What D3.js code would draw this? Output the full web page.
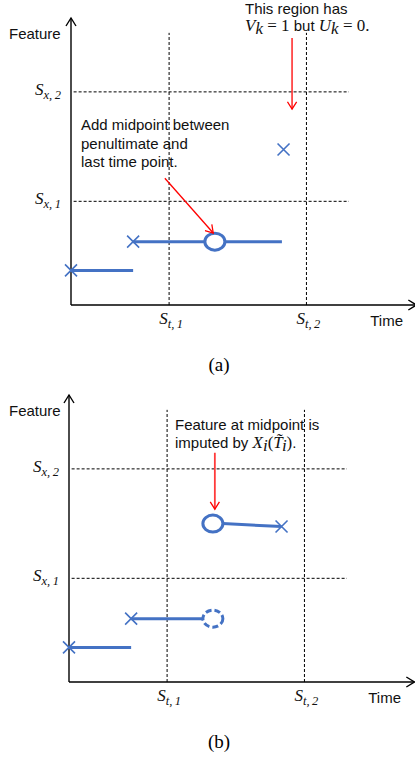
<!DOCTYPE html>
<html>
<head>
<meta charset="utf-8">
<script src="https://cdn.jsdelivr.net/npm/d3@7"></script>
<style>
  body { margin: 0; background: #fff; }
  svg { display: block; }
  .sans { font-family: "Liberation Sans", Arial, sans-serif; font-size: 15px; fill: #111; }
  .math { font-family: "Liberation Serif", "DejaVu Serif", serif; font-style: italic; font-size: 17px; fill: #111; }
</style>
</head>
<body>
<div class="chart"></div>
<script>
// Chart layout
var width = 415,
  height = 759,
  blue = "#4472c4",
  red = "#ff0000";

// Data (abstract time / feature units)
var timeThresholds = [3.0, 7.2];         // S_t,1 , S_t,2
var featureThresholds = [3.6, 7.4];      // S_x,1 , S_x,2
var thresholdLabels = ["1", "2"];

// panel (a)
var segmentsA = [
  { t0: 0.0, t1: 1.9, x0: 1.2, x1: 1.2 },
  { t0: 1.9, t1: 6.45, x0: 2.2, x1: 2.2 }
];
var crossesA = [
  { t: 0.0, x: 1.2 },
  { t: 1.9, x: 2.2 },
  { t: 6.5, x: 5.4 }
];
var circlesA = [{ t: 4.4, x: 2.2, dashed: false }];

// panel (b)
var segmentsB = [
  { t0: 0.0, t1: 1.9, x0: 1.2, x1: 1.2 },
  { t0: 1.9, t1: 4.1, x0: 2.2, x1: 2.2 },
  { t0: 4.7, t1: 6.5, x0: 5.5, x1: 5.4 }
];
var crossesB = [
  { t: 0.0, x: 1.2 },
  { t: 1.9, x: 2.2 },
  { t: 6.5, x: 5.4 }
];
var circlesB = [
  { t: 4.4, x: 5.5, dashed: false },
  { t: 4.4, x: 2.2, dashed: true }
];

var svg = d3.select(".chart").append("svg")
  .attr("width", width)
  .attr("height", height);

var defs = svg.append("defs");
function marker(id, color, size) {
  defs.append("marker")
    .attr("id", id)
    .attr("viewBox", "-10 -6 12 12")
    .attr("refX", 0).attr("refY", 0)
    .attr("markerWidth", size).attr("markerHeight", size)
    .attr("markerUnits", "userSpaceOnUse")
    .attr("orient", "auto")
    .append("path")
      .attr("d", "M-8,-5L0,0L-8,5")
      .attr("fill", "none")
      .attr("stroke", color)
      .attr("stroke-width", 1.4);
}
marker("axisArrow", "#000", 12);
marker("redArrow", red, 11);

// subscripted math label: base letter + smaller subscript
function mathLabel(sel, base, sub) {
  sel.append("tspan").text(base);
  sel.append("tspan").attr("dy", 4).attr("font-size", 12.5).text(sub);
}

// Draws one panel
function drawPanel(opt) {
  var x = d3.scaleLinear().domain([0, 10]).range([opt.left, opt.left + 327]);
  var y = d3.scaleLinear().domain([0, 10]).range([opt.bottom, opt.bottom - 288]);
  var g = svg.append("g");

  // dashed threshold grid
  g.selectAll(".vdash").data(timeThresholds).enter().append("line")
    .attr("x1", function(d) { return x(d); }).attr("x2", function(d) { return x(d); })
    .attr("y1", y(0)).attr("y2", y(9.45))
    .attr("stroke", "#000").attr("stroke-width", 1).attr("stroke-dasharray", "3,2");
  g.selectAll(".hdash").data(featureThresholds).enter().append("line")
    .attr("x1", x(0.08)).attr("x2", x(8.5))
    .attr("y1", function(d) { return y(d); }).attr("y2", function(d) { return y(d); })
    .attr("stroke", "#000").attr("stroke-width", 1).attr("stroke-dasharray", "3,2");

  // axes
  g.append("line").attr("x1", x(0)).attr("y1", y(0)).attr("x2", x(0)).attr("y2", y(10) + 1)
    .attr("stroke", "#000").attr("stroke-width", 1.4).attr("marker-end", "url(#axisArrow)");
  g.append("line").attr("x1", x(0)).attr("y1", y(0)).attr("x2", x(10.5) + 2).attr("y2", y(0))
    .attr("stroke", "#000").attr("stroke-width", 1.4).attr("marker-end", "url(#axisArrow)");

  g.append("text").attr("class", "sans").attr("x", 9).attr("y", y(10) + 22).text("Feature");
  g.append("text").attr("class", "sans").attr("x", x(9.15)).attr("y", y(0) + 21).text("Time");

  // threshold labels
  g.selectAll(".tl").data(timeThresholds).enter().append("text")
    .attr("class", "math").attr("text-anchor", "middle")
    .attr("x", function(d) { return x(d) + 2; }).attr("y", y(0) + 19)
    .each(function(d, i) { mathLabel(d3.select(this), "S", "t,\u2009" + thresholdLabels[i]); });

  g.selectAll(".fl").data(featureThresholds).enter().append("text")
    .attr("class", "math").attr("text-anchor", "end")
    .attr("x", x(0) - 10).attr("y", function(d) { return y(d) + 3; })
    .each(function(d, i) { mathLabel(d3.select(this), "S", "x,\u2009" + thresholdLabels[i]); });

  // segments
  g.selectAll(".seg").data(opt.segments).enter().append("line")
    .attr("x1", function(d) { return x(d.t0); }).attr("x2", function(d) { return x(d.t1); })
    .attr("y1", function(d) { return y(d.x0); }).attr("y2", function(d) { return y(d.x1); })
    .attr("stroke", blue).attr("stroke-width", 3);

  // crosses
  var cs = 6;
  g.selectAll(".cross").data(opt.crosses).enter().append("path")
    .attr("d", function(d) {
      var cx = x(d.t), cy = y(d.x);
      return "M" + (cx - cs) + "," + (cy - cs) + "L" + (cx + cs) + "," + (cy + cs) +
        "M" + (cx - cs) + "," + (cy + cs) + "L" + (cx + cs) + "," + (cy - cs);
    })
    .attr("stroke", blue).attr("stroke-width", 1.6).attr("fill", "none");

  // midpoint circles
  g.selectAll(".mid").data(opt.circles).enter().append("ellipse")
    .attr("cx", function(d) { return x(d.t); }).attr("cy", function(d) { return y(d.x); })
    .attr("rx", 10).attr("ry", 8.5)
    .attr("fill", "#fff").attr("stroke", blue).attr("stroke-width", 3)
    .attr("stroke-dasharray", function(d) { return d.dashed ? "6,3" : null; });

  // red annotation arrows
  g.selectAll(".arr").data(opt.arrows).enter().append("line")
    .attr("x1", function(d) { return x(d.t0); }).attr("y1", function(d) { return y(d.x0); })
    .attr("x2", function(d) { return x(d.t1); }).attr("y2", function(d) { return y(d.x1); })
    .attr("stroke", opt.arrowColor).attr("stroke-width", opt.arrowWidth).attr("marker-end", "url(#redArrow)");

  g.append("text").attr("font-family", "Liberation Serif, serif").attr("font-size", 19)
    .attr("text-anchor", "middle").attr("x", 219).attr("y", y(0) + 66).text(opt.caption);

  return { g: g, x: x, y: y };
}

var pa = drawPanel({
  left: 71, bottom: 305,
  segments: segmentsA, crosses: crossesA, circles: circlesA,
  arrows: [
    { t0: 2.87, x0: 4.4, t1: 4.35, x1: 2.5 },
    { t0: 6.76, x0: 9.27, t1: 6.76, x1: 6.8 }
  ],
  arrowColor: red, arrowWidth: 1.3,
  caption: "(a)"
});

var pb = drawPanel({
  left: 69, bottom: 682,
  segments: segmentsB, crosses: crossesB, circles: circlesB,
  arrows: [{ t0: 4.46, x0: 7.96, t1: 4.46, x1: 6.0 }],
  arrowColor: "#ff3b3b", arrowWidth: 1.8,
  caption: "(b)"
});

// annotation text, panel (a)
var ga = pa.g;
ga.append("text").attr("class", "sans").attr("x", 245).attr("y", 14).text("This region has");
var l2 = ga.append("text").attr("class", "sans").attr("x", 245).attr("y", 31);
l2.append("tspan").attr("class", "math").text("V");
l2.append("tspan").attr("class", "math").attr("font-size", 12).attr("dy", 3).text("k");
l2.append("tspan").attr("font-family", "Liberation Serif, serif").attr("font-size", 17).attr("dy", -3).text(" = 1 ");
l2.append("tspan").text("but ");
l2.append("tspan").attr("class", "math").text("U");
l2.append("tspan").attr("class", "math").attr("font-size", 12).attr("dy", 3).text("k");
l2.append("tspan").attr("font-family", "Liberation Serif, serif").attr("font-size", 17).attr("dy", -3).text(" = 0.");

["Add midpoint between", "penultimate and", "last time point."].forEach(function(s, i) {
  ga.append("text").attr("class", "sans").attr("x", 81).attr("y", 130 + i * 18.5).text(s);
});

// annotation text, panel (b)
var gb = pb.g;
gb.append("text").attr("class", "sans").attr("x", 175).attr("y", 430).text("Feature at midpoint is");
var b2 = gb.append("text").attr("class", "sans").attr("x", 175).attr("y", 448);
b2.append("tspan").text("imputed by ");
b2.append("tspan").attr("class", "math").text("X");
b2.append("tspan").attr("class", "math").attr("font-size", 12).attr("dy", 3).text("i");
b2.append("tspan").attr("font-family", "Liberation Serif, serif").attr("font-size", 17).attr("dy", -3).text("(");
b2.append("tspan").attr("class", "math").text("T\u0303");
b2.append("tspan").attr("class", "math").attr("font-size", 12).attr("dy", 3).text("i");
b2.append("tspan").attr("font-family", "Liberation Serif, serif").attr("font-size", 17).attr("dy", -3).text(")");
b2.append("tspan").text(".");
</script>
</body>
</html>
